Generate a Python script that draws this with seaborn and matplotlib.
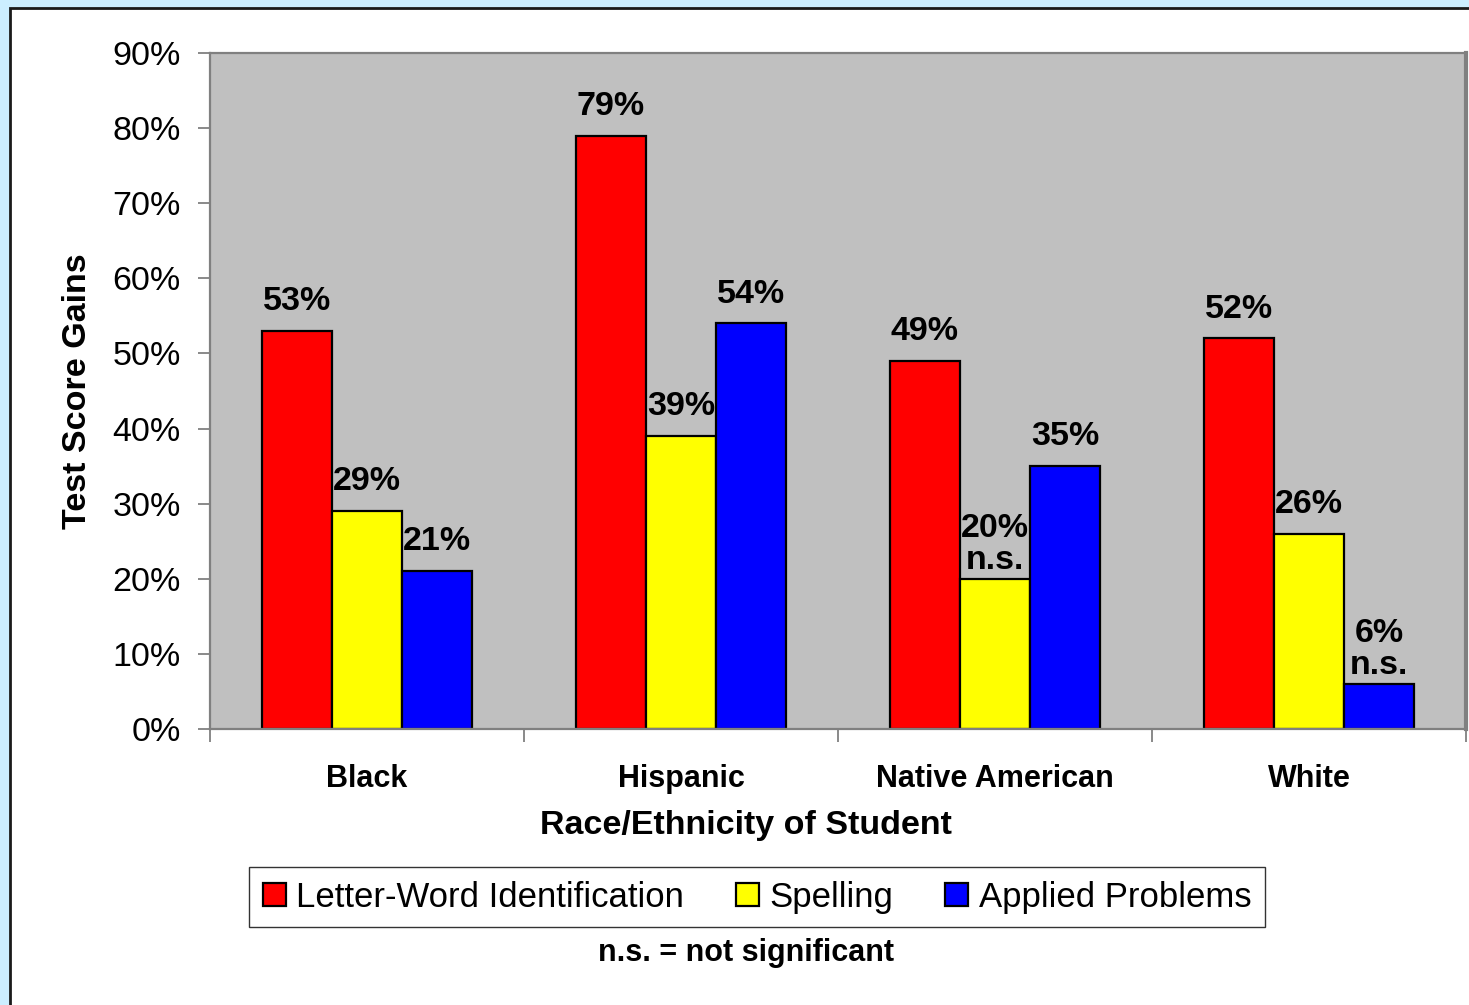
import numpy as np
import pandas as pd
import matplotlib
matplotlib.use("Agg")
import matplotlib.pyplot as plt
from matplotlib.patches import Rectangle
from matplotlib.ticker import FixedLocator
import seaborn as sns

# Chart data
groups = ["Black", "Hispanic", "Native American", "White"]
tests = ["Letter-Word Identification", "Spelling", "Applied Problems"]
letter_word = [53, 79, 49, 52]
spelling = [29, 39, 20, 26]
applied = [21, 54, 35, 6]
# results that were not statistically significant
not_sig = {("Spelling", "Native American"), ("Applied Problems", "White")}
y_ticks = [0, 10, 20, 30, 40, 50, 60, 70, 80, 90]

colors = ["#ff0000", "#ffff00", "#0000ff"]

sns.set_theme(style="white")
plt.rcParams["font.family"] = ["Liberation Sans", "DejaVu Sans"]
plt.rcParams.update({"text.color": "black", "axes.labelcolor": "black",
                     "xtick.labelcolor": "black", "ytick.labelcolor": "black"})

rows = []
for test, vals in zip(tests, [letter_word, spelling, applied]):
    for g, v in zip(groups, vals):
        rows.append({"Group": g, "Test": test, "Gain": v})
df = pd.DataFrame(rows)

fig = plt.figure(figsize=(14.69, 10.05), dpi=100)
fig.patch.set_facecolor("#cceeff")

# white inner panel with dark border
fig.add_artist(Rectangle((10 / 1469, -0.05), 1.1, 1.05 - 8 / 1005,
                         transform=fig.transFigure, facecolor="white",
                         edgecolor="#1a1a1a", linewidth=2, zorder=0))

ax = fig.add_axes([210 / 1469, 1 - 729 / 1005, 1256 / 1469, 676 / 1005])
ax.set_facecolor("#c0c0c0")

sns.barplot(data=df, x="Group", y="Gain", hue="Test", order=groups,
            hue_order=tests, palette=colors, saturation=1, width=0.669,
            edgecolor="black", linewidth=1.6, ax=ax)

handles, labels = ax.get_legend_handles_labels()
ax.get_legend().remove()

# value labels above bars
for test, cont in zip(tests, ax.containers):
    for g, bar in zip(groups, cont):
        val = bar.get_height()
        x = bar.get_x() + bar.get_width() / 2
        if (test, g) in not_sig:
            txt, off = f"{val:.0f}%\nn.s.", 2
        else:
            txt, off = f"{val:.0f}%", 10
        ax.annotate(txt, (x, val), xytext=(0, off), textcoords="offset points",
                    ha="center", va="bottom", fontsize=24.5, fontweight="bold",
                    linespacing=1.05, color="black")

ax.set_ylim(0, 90)
ax.set_xlim(-0.5, 3.5)
ax.set_yticks(y_ticks)
ax.set_yticklabels([f"{t}%" for t in y_ticks])
ax.xaxis.set_minor_locator(FixedLocator(np.arange(-0.5, 4, 1)))
ax.tick_params(axis="x", which="major", length=0, pad=25, labelsize=22)
ax.tick_params(axis="x", which="minor", length=9, width=1.3, color="#808080",
               direction="out", bottom=True)
ax.tick_params(axis="y", length=9, width=1.3, color="#808080", direction="out",
               left=True, pad=12, labelsize=24.5)
for lab in ax.get_xticklabels():
    lab.set_fontweight("bold")

for side in ["top", "right", "bottom", "left"]:
    ax.spines[side].set_visible(True)
    ax.spines[side].set_color("#808080")
    ax.spines[side].set_linewidth(1.6)
ax.spines["right"].set_linewidth(3)

ax.set_xlabel("Race/Ethnicity of Student", fontsize=24.5, fontweight="bold")
ax.xaxis.set_label_coords((745.5 - 210) / 1256, -(825 - 729) / 676)
ax.xaxis.label.set_verticalalignment("center")
ax.set_ylabel("Test Score Gains", fontsize=24.5, fontweight="bold")
ax.yaxis.set_label_coords(-(210 - 78) / 1256, 0.5)
ax.yaxis.label.set_verticalalignment("center")

leg = fig.legend(handles, labels, loc="center", bbox_to_anchor=(757 / 1469, 1 - 897 / 1005),
                 ncol=3, fontsize=25, frameon=True, fancybox=False,
                 handlelength=0.66, handleheight=0.66, handletextpad=0.3,
                 columnspacing=1.5, borderpad=0.4)
leg.get_frame().set_edgecolor("black")
leg.get_frame().set_linewidth(1)

fig.text(746 / 1469, 1 - 953 / 1005, "n.s. = not significant", ha="center",
         va="center", fontsize=22, fontweight="bold")

fig.savefig("out.png", dpi=100, facecolor=fig.get_facecolor())
